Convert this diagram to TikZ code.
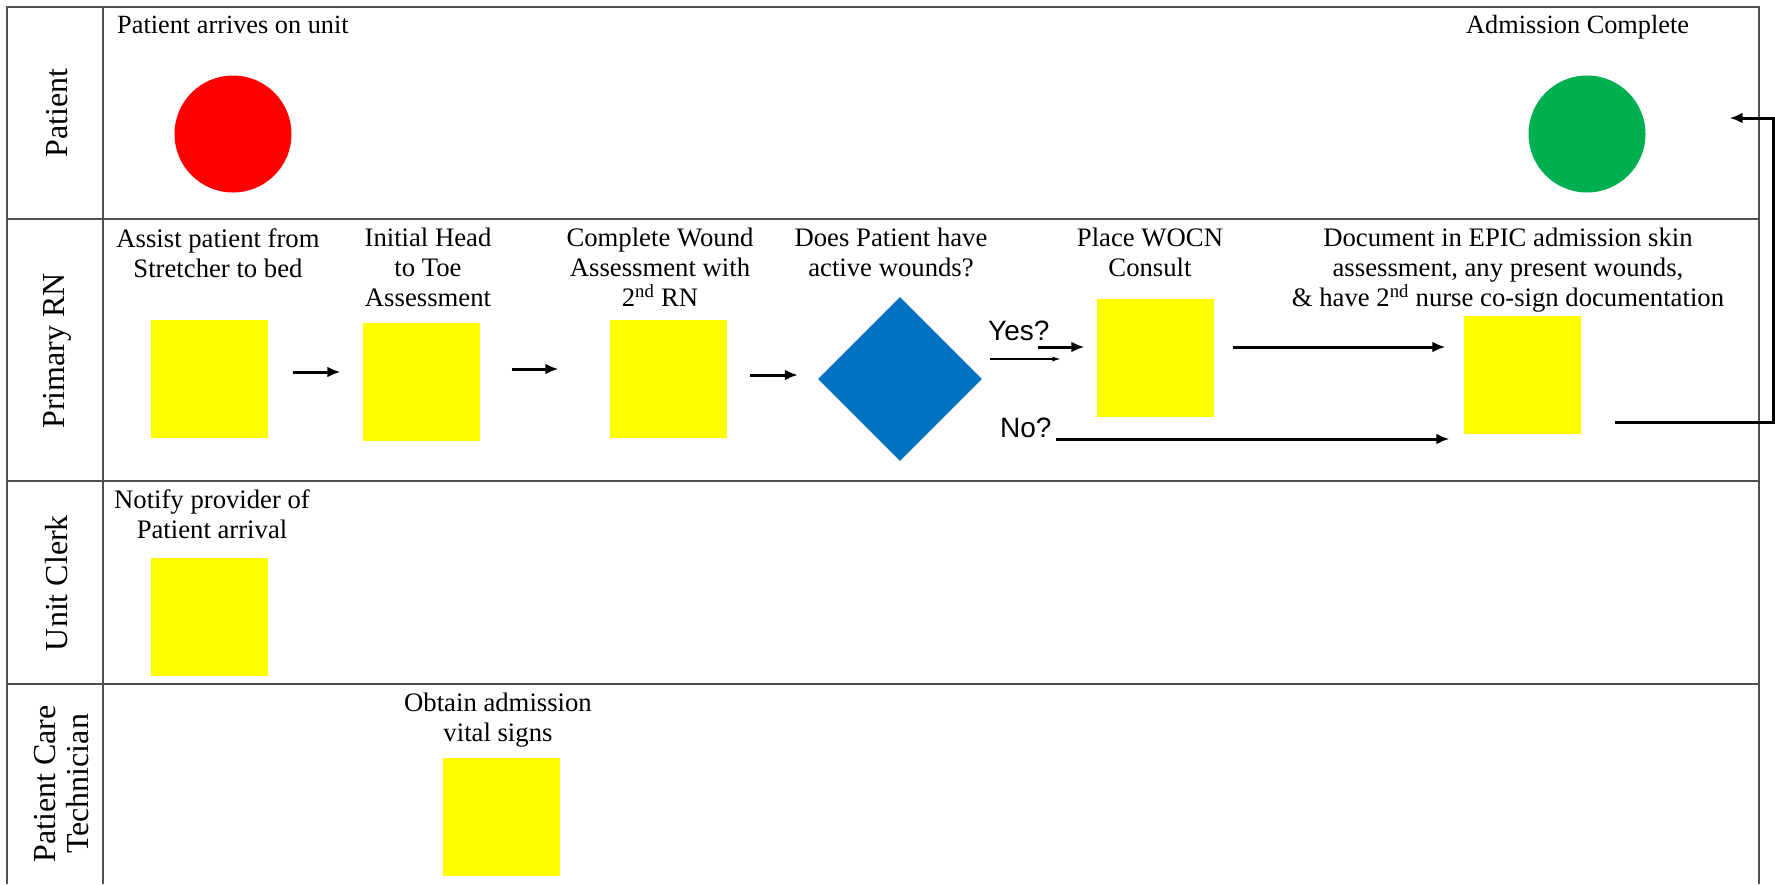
\documentclass[tikz,border=0pt]{standalone}
\usepackage{fontspec}
\setmainfont{Liberation Serif}
\newfontfamily\sansf{Liberation Sans}
\usetikzlibrary{shapes.geometric,arrows.meta,calc}
\definecolor{tblgray}{HTML}{505050}
\definecolor{startred}{HTML}{FF0000}
\definecolor{endgreen}{HTML}{00B050}
\definecolor{boxyellow}{HTML}{FFFF00}
\definecolor{decblue}{HTML}{0070C0}
\begin{document}
\begin{tikzpicture}[x=1pt,y=-1pt,
  tbl/.style={draw=tblgray,line width=2pt},
  stepbox/.style={rectangle,fill=boxyellow,draw=none,minimum width=117pt,minimum height=118pt,inner sep=0pt},
  decbox/.style={diamond,fill=decblue,draw=none,minimum width=164pt,minimum height=164pt,inner sep=0pt},
  term/.style={circle,draw=none,minimum size=117pt,inner sep=0pt},
  lbl/.style={font=\fontsize{26.7}{30}\selectfont,align=center,inner sep=0pt,anchor=north},
  lane/.style={font=\fontsize{32}{33}\selectfont,align=center,inner sep=0pt,rotate=90},
  yn/.style={font=\sansf\fontsize{28}{30}\selectfont,inner sep=0pt,anchor=base west},
  arr/.style={line width=3pt,-{Latex[length=13pt,width=11pt]}},
  thinarr/.style={line width=1.5pt,-{Latex[length=9pt,width=5pt]}}
]
\useasboundingbox (0,0) rectangle (1775,884);
% table
\draw[tbl] (7,884) -- (7,7) -- (1759,7) -- (1759,884);
\draw[tbl] (103,7) -- (103,884);
\draw[tbl] (7,219) -- (1759,219);
\draw[tbl] (7,481) -- (1759,481);
\draw[tbl] (7,684) -- (1759,684);
% lane labels
\node[lane] (laneP) at (57,113) {Patient};
\node[lane] (laneRN) at (57,351) {Primary RN};
\node[lane] (laneUC) at (57,583) {Unit Clerk};
\node[lane] (lanePCT) at (62,784) {Patient Care\\Technician};
% patient lane
\node[font=\fontsize{26.3}{30}\selectfont,inner sep=0pt,anchor=base west] (tStart) at (117,33) {Patient arrives on unit};
\node[font=\fontsize{26.3}{30}\selectfont,inner sep=0pt,anchor=base west] (tEnd) at (1466,33) {Admission Complete};
\node[term,fill=startred] (start) at (233,134) {};
\node[term,fill=endgreen] (finish) at (1587,134) {};
% primary RN lane
\node[lbl] (t1) at (218,228) {Assist patient from\\Stretcher to bed};
\node[lbl] (t2) at (428,228) {Initial Head\\to Toe\\Assessment};
\node[lbl] (t3) at (660,228) {Complete Wound\\Assessment with\\2\textsuperscript{nd} RN};
\node[lbl] (t4) at (891,228) {Does Patient have\\active wounds?};
\node[lbl] (t5) at (1150,228) {Place WOCN\\Consult};
\node[lbl] (t6) at (1508,228) {Document in EPIC admission skin\\assessment, any present wounds,\\\& have 2\textsuperscript{nd} nurse co-sign documentation};
\node[stepbox] (b1) at (209,379) {};
\node[stepbox] (b2) at (421,382) {};
\node[stepbox] (b3) at (668,379) {};
\node[decbox] (dec) at (900,379) {};
\node[stepbox] (wocn) at (1155,358) {};
\node[stepbox] (doc) at (1522,375) {};
\node[yn] (yes) at (988,340) {Yes?};
\node[yn] (no) at (1000,437) {No?};
% unit clerk lane
\node[lbl] (t7) at (212,489) {Notify provider of\\Patient arrival};
\node[stepbox] (clerk) at (209,617) {};
% PCT lane
\node[lbl] (t8) at (498,693) {Obtain admission\\vital signs};
\node[stepbox] (pct) at (501,817) {};
% connectors
\draw[arr,shorten >=22pt] ([shift={(25,-7)}]b1.east) -- ([shift={(0,-7)}]b1.east -| b2.west);
\draw[arr,shorten >=51pt] ([shift={(32,-13)}]b2.east) -- ([shift={(0,-13)}]b2.east -| b3.west);
\draw[arr,shorten >=20pt] ([shift={(23,-4)}]b3.east) -- ([shift={(0,-4)}]b3.east -| dec.west);
\draw[thinarr,shorten >=35pt] ([shift={(8,-20)}]dec.east) -- ([shift={(0,-20)}]dec.east -| wocn.west);
\draw[arr,shorten >=12pt] ([shift={(56,-32)}]dec.east) -- ([shift={(0,-32)}]dec.east -| wocn.west);
\draw[arr,shorten >=18pt] ([shift={(19,-11)}]wocn.east) -- ([shift={(0,-11)}]wocn.east -| doc.west);
\draw[arr,shorten >=18pt] ([shift={(4,2)}]no.base east) -- ([shift={(4,2)}]no.base east -| doc.west);
\coordinate (turn) at (1773,118);
\draw[arr] ([shift={(34,47)}]doc.east) -| (turn) -- ([shift={(84,-16)}]finish.east);
\end{tikzpicture}
\end{document}
